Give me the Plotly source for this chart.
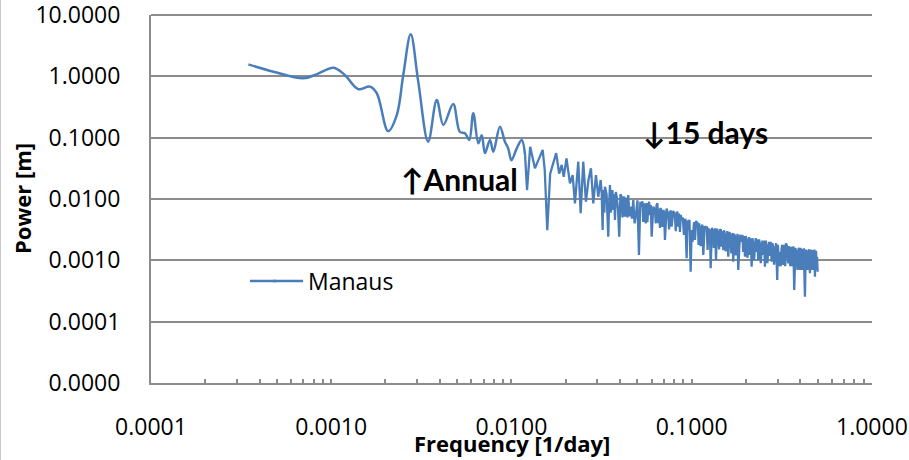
import plotly.graph_objects as go

# Periodogram of the Manaus river stage record
# Low-frequency part (smooth, zero-padded spectrum)
freq_low = [3.47e-4, 4.78e-4, 7.0e-4, 8.3e-4, 1.03e-3, 1.19e-3, 1.41e-3, 1.64e-3,
            1.79e-3, 2.07e-3, 2.31e-3, 2.51e-3, 2.76e-3, 3.04e-3, 3.45e-3, 3.85e-3,
            4.19e-3, 4.75e-3, 5.17e-3, 5.52e-3, 5.83e-3, 6.14e-3, 6.55e-3, 6.84e-3,
            7.13e-3, 7.60e-3, 7.93e-3, 8.63e-3, 9.20e-3, 9.59e-3, 0.0100, 0.0107,
            0.0114, 0.0119]
power_low = [1.57, 1.19, 0.93, 1.08, 1.38, 1.05, 0.62, 0.68,
             0.53, 0.128, 0.234, 1.05, 4.84, 0.82, 0.086, 0.41,
             0.161, 0.354, 0.125, 0.118, 0.092, 0.25, 0.081, 0.110,
             0.056, 0.092, 0.059, 0.151, 0.086, 0.067, 0.043, 0.067,
             0.092, 0.052]

# High-frequency part (noisy spectrum up to the Nyquist frequency)
freq_high = [
    0.0119, 0.0122, 0.0127, 0.0135, 0.0141, 0.0149, 0.0153, 0.0158, 0.0164, 0.0171,
    0.0177, 0.0184, 0.0190, 0.0195, 0.0202, 0.02112, 0.02185, 0.02251, 0.02348, 0.02421,
    0.02502, 0.02590, 0.02675, 0.02761, 0.02844, 0.02944, 0.03032,
    0.03126, 0.03166, 0.03206, 0.03228, 0.03251, 0.03276, 0.03302, 0.03372, 0.03444, 0.03482,
    0.03520, 0.03556, 0.03592, 0.03631, 0.03671, 0.03712, 0.03753, 0.03794, 0.03835, 0.03899,
    0.03964, 0.04025, 0.04087, 0.04129, 0.04172, 0.04218, 0.04264, 0.04307, 0.04351, 0.04399,
    0.04447, 0.04516, 0.04586, 0.04663, 0.04741, 0.04824, 0.04907, 0.05002, 0.05098, 0.05187,
    0.05277, 0.05331, 0.05386, 0.05445, 0.05504, 0.05561, 0.05618, 0.05679, 0.05741, 0.05804,
    0.05867, 0.05931, 0.05996, 0.06124, 0.06254, 0.06319, 0.06384, 0.06454, 0.06524, 0.06595,
    0.06667, 0.06740, 0.06814, 0.06884, 0.06954, 0.07030, 0.07107, 0.07258, 0.07413, 0.07494,
    0.07575, 0.07658, 0.07741, 0.07907, 0.08076, 0.08158, 0.08241, 0.08332, 0.08423, 0.08515,
    0.08608, 0.08702, 0.08796, 0.08927, 0.09059, 0.09217, 0.09377, 0.09473, 0.09570, 0.09719,
    0.09870, 0.09995, 0.1010, 0.1020, 0.1031, 0.1043, 0.1058, 0.1074, 0.1083, 0.1092,
    0.1101, 0.1111, 0.1122, 0.1134, 0.1147, 0.1160, 0.1180, 0.1200, 0.1212, 0.1225,
    0.1238, 0.1252, 0.1263, 0.1274, 0.1295, 0.1317, 0.1328, 0.1339, 0.1351, 0.1364,
    0.1384, 0.1405, 0.1420, 0.1435, 0.1451, 0.1467, 0.1482, 0.1497, 0.1513, 0.1530,
    0.1545, 0.1561, 0.1578, 0.1596, 0.1620, 0.1645, 0.1659, 0.1673, 0.1687, 0.1701,
    0.1719, 0.1738, 0.1757, 0.1777, 0.1795, 0.1813, 0.1853, 0.1893, 0.1912, 0.1932,
    0.1953, 0.1975, 0.1995, 0.2016, 0.2038, 0.2060, 0.2082, 0.2105, 0.2128, 0.2151,
    0.2173, 0.2196, 0.2220, 0.2244, 0.2267, 0.2291, 0.2316, 0.2341, 0.2366, 0.2392,
    0.2418, 0.2445, 0.2470, 0.2495, 0.2522, 0.2550, 0.2576, 0.2602, 0.2630, 0.2659,
    0.2688, 0.2717, 0.2747, 0.2777, 0.2806, 0.2835, 0.2866, 0.2897, 0.2940, 0.2983,
    0.3008, 0.3033, 0.3060, 0.3088, 0.3120, 0.3152, 0.3186, 0.3221, 0.3248, 0.3275,
    0.3304, 0.3334, 0.3383, 0.3433, 0.3462, 0.3491, 0.3522, 0.3554, 0.3591, 0.3628,
    0.3667, 0.3707, 0.3764, 0.3822, 0.3862, 0.3902, 0.3945, 0.3988, 0.4021, 0.4055,
    0.4091, 0.4127, 0.4188, 0.4250, 0.4296, 0.4343, 0.4388, 0.4433, 0.4481, 0.4530,
    0.4568, 0.4607, 0.4648, 0.4690, 0.4722, 0.4755, 0.4792, 0.4830, 0.4866, 0.4903,
    0.4931, 0.4960, 0.5000]
power_high = [
    0.052, 0.0140, 0.071, 0.0316, 0.043, 0.063, 0.0297, 0.0031, 0.026, 0.041,
    0.056, 0.026, 0.036, 0.023, 0.046, 0.01803, 0.0246, 0.00851, 0.0406, 0.00585,
    0.0406, 0.00904, 0.0204, 0.0317, 0.00851, 0.0246, 0.01089,
    0.0204, 0.0130, 0.00312, 0.0140, 0.00963, 0.0060, 0.01587, 0.0120, 0.00243, 0.0080,
    0.0169, 0.0060, 0.01038, 0.0140, 0.00661, 0.0120, 0.00455, 0.0130, 0.01089, 0.0070,
    0.00243, 0.0120, 0.01089, 0.0050, 0.00963, 0.0110, 0.00514, 0.0105, 0.00798, 0.0050,
    0.01161, 0.0052, 0.00749, 0.0048, 0.00963, 0.0040, 0.00548, 0.0095, 0.00122, 0.0090,
    0.00749, 0.0092, 0.00422, 0.0085, 0.00514, 0.0040, 0.0086, 0.0042, 0.00749, 0.0090,
    0.00548, 0.0080, 0.00243, 0.0075, 0.00661, 0.0040, 0.00798, 0.0085, 0.00402, 0.0070,
    0.00337, 0.0072, 0.00548, 0.0035, 0.00661, 0.0062, 0.00215, 0.0070, 0.00548, 0.0032,
    0.00614, 0.0065, 0.00353, 0.0064, 0.00514, 0.0030, 0.00614, 0.0060, 0.00353, 0.0058,
    0.00290, 0.0055, 0.00455, 0.0050, 0.00259, 0.0048, 0.00108, 0.0045, 0.00312, 0.0046,
    0.000653, 0.00312, 0.0020, 0.00363, 0.0042, 0.00215, 0.0044, 0.00402, 0.0040, 0.00178,
    0.0040, 0.00243, 0.0017, 0.00349, 0.0038, 0.00122, 0.0036, 0.00333, 0.0036, 0.00147,
    0.0034, 0.00190, 0.0032, 0.000741, 0.0034, 0.00276, 0.0016, 0.00312, 0.0033, 0.00101,
    0.0033, 0.00243, 0.0015, 0.00312, 0.0032, 0.00167, 0.0030, 0.00147, 0.0031, 0.00259,
    0.0014, 0.00231, 0.0030, 0.001146, 0.0029, 0.00243, 0.0013, 0.00215, 0.0028, 0.000950,
    0.0027, 0.00249, 0.0012, 0.00190, 0.0027, 0.000696, 0.0026, 0.00201, 0.0026, 0.001367,
    0.0025, 0.001146, 0.0025, 0.00215, 0.0011, 0.00178, 0.0024, 0.00122, 0.0023, 0.000787,
    0.0023, 0.00190, 0.0010, 0.00167, 0.0023, 0.001367, 0.0022, 0.00101, 0.0022, 0.001846,
    0.0009, 0.00157, 0.0021, 0.00122, 0.0021, 0.000787, 0.0021, 0.001714, 0.0009, 0.00147,
    0.0020, 0.001176, 0.0020, 0.000950, 0.0019, 0.00164, 0.00085, 0.00138, 0.0019, 0.000478,
    0.0018, 0.00109, 0.0008, 0.00138, 0.0008, 0.00157, 0.0018, 0.000839, 0.0018, 0.001176,
    0.0008, 0.00190, 0.0017, 0.000895, 0.0017, 0.00147, 0.0008, 0.00167, 0.0008, 0.00109,
    0.0017, 0.000328, 0.0016, 0.00122, 0.0007, 0.00147, 0.0016, 0.000696, 0.0016, 0.00109,
    0.0007, 0.00147, 0.0015, 0.000255, 0.0015, 0.001146, 0.0007, 0.00142, 0.0015, 0.000614,
    0.0015, 0.000939, 0.0007, 0.00147, 0.0007, 0.00109, 0.0015, 0.000541, 0.0014, 0.001367,
    0.0007, 0.001146, 0.00065]

x_tick_vals = [1e-4, 1e-3, 1e-2, 1e-1, 1.0]
x_tick_text = ["0.0001", "0.0010", "0.0100", "0.1000", "1.0000"]
y_tick_vals = [1e-5, 1e-4, 1e-3, 1e-2, 1e-1, 1.0, 10.0]
y_tick_text = ["0.0000", "0.0001", "0.0010", "0.0100", "0.1000", "1.0000", "10.0000"]

series_name = "Manaus"
line_color = "#4a7ebb"
axis_gray = "#8c8c8c"
text_font = "Open Sans, Liberation Sans, sans-serif"
note_font = "Lato, Open Sans, sans-serif"

if len(freq_high) != len(power_high):
    raise ValueError(f"freq_high has {len(freq_high)} values, power_high {len(power_high)}")

fig = go.Figure()
fig.add_trace(go.Scatter(
    x=freq_low, y=power_low, mode="lines", name=series_name, legendgroup="m",
    line=dict(color=line_color, width=2.5, shape="spline", smoothing=1.0),
    hoverinfo="skip"))
fig.add_trace(go.Scatter(
    x=freq_high, y=power_high, mode="lines", name=series_name, legendgroup="m",
    showlegend=False, line=dict(color=line_color, width=2.3), hoverinfo="skip"))

L, R, T, B = 151, 872, 15, 383
W, H = 909, 460
pw, ph = R - L, B - T


def px(xp):
    return (xp - L) / pw


def py(yp):
    return (B - yp) / ph


minor_x = [m * 10.0 ** e for e in range(-4, 0) for m in range(2, 10)]

fig.update_layout(
    width=W, height=H, autosize=False,
    margin=dict(l=L, r=W - R, t=T, b=H - B, pad=0),
    paper_bgcolor="white", plot_bgcolor="white",
    font=dict(family=text_font, size=23, color="black"),
    showlegend=True,
    legend=dict(x=px(268), y=py(281), xanchor="left", yanchor="middle",
                bgcolor="rgba(0,0,0,0)", borderwidth=0,
                font=dict(family=text_font, size=23, color="black")),
    xaxis=dict(
        type="log", range=[-4, 0.0005], showgrid=False, zeroline=False, automargin=False,
        showline=True, linecolor=axis_gray, linewidth=2, mirror=False,
        tickmode="array", tickvals=x_tick_vals, ticktext=x_tick_text,
        ticks="inside", ticklen=4, tickwidth=1.5, tickcolor=axis_gray,
        ticklabelstandoff=22, ticklabeloverflow="allow",
        minor=dict(tickmode="array", tickvals=minor_x, ticks="inside",
                   ticklen=4, tickwidth=1.5, tickcolor=axis_gray, showgrid=False),
        tickfont=dict(family=text_font, size=23, color="black")),
    yaxis=dict(
        type="log", range=[-5, 1.0005], showgrid=True, gridcolor=axis_gray, gridwidth=2,
        zeroline=False, showline=True, linecolor=axis_gray, linewidth=2, automargin=False,
        tickmode="array", tickvals=y_tick_vals, ticktext=y_tick_text,
        ticks="", ticklabelstandoff=24, ticklabeloverflow="allow",
        tickfont=dict(family=text_font, size=23, color="black")),
)

# White legend panel covering the gridlines behind the legend entry
fig.add_shape(type="rect", xref="paper", yref="paper",
              x0=px(196), x1=px(440), y0=py(372), y1=py(212),
              fillcolor="white", line=dict(width=0), layer="between")

# Gridline along the top edge of the plot area (the 10.0000 level)
fig.add_shape(type="line", xref="paper", yref="paper",
              x0=0, x1=1, y0=1, y1=1,
              line=dict(color=axis_gray, width=2), layer="between")

# Longer legend key line, continuing the legend symbol to the left
fig.add_shape(type="line", xref="paper", yref="paper",
              x0=px(250), x1=px(276), y0=py(281), y1=py(281),
              line=dict(color=line_color, width=2.5), layer="above")

# Thin border along the left edge of the chart area
fig.add_shape(type="line", xref="paper", yref="paper",
              x0=px(0.5), x1=px(0.5), y0=py(H), y1=py(0),
              line=dict(color="#c8c8c8", width=1), layer="above")

# Axis titles
fig.add_annotation(text="<b>Power [m]</b>", xref="paper", yref="paper",
                   x=px(22), y=0.5, xanchor="center", yanchor="middle",
                   textangle=-90, showarrow=False,
                   font=dict(family=text_font, size=22, color="black"))
fig.add_annotation(text="<b>Frequency [1/day]</b>", xref="paper", yref="paper",
                   x=0.5, y=py(443), xanchor="center", yanchor="middle",
                   showarrow=False,
                   font=dict(family=text_font, size=22, color="black"))

# Period markers
fig.add_annotation(text="<b>\u2191Annual</b>", xref="paper", yref="paper",
                   x=px(399), y=py(179), xanchor="left", yanchor="middle",
                   showarrow=False,
                   font=dict(family=note_font, size=30, color="black"))
fig.add_annotation(text="<b>\u219315 days</b>", xref="paper", yref="paper",
                   x=px(641), y=py(132), xanchor="left", yanchor="middle",
                   showarrow=False,
                   font=dict(family=note_font, size=30, color="black"))

fig.write_html("out.html")
